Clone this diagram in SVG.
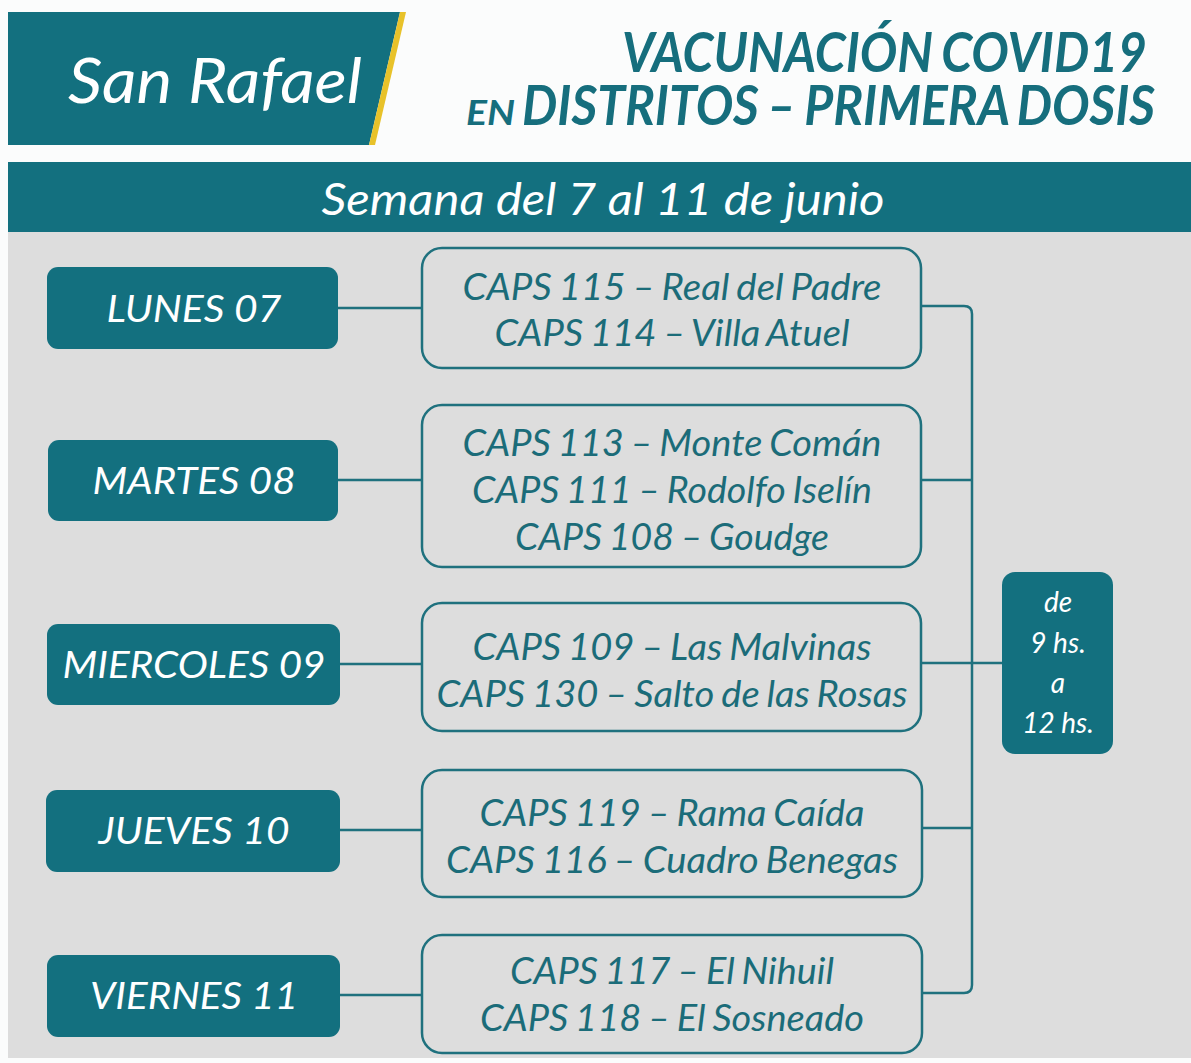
<svg xmlns="http://www.w3.org/2000/svg" width="1191" height="1063" viewBox="0 0 1191 1063">
<defs>
<style>
.day{fill:#13707f}
.caps{fill:none;stroke:#1f717e;stroke-width:2.5}
.conn{fill:none;stroke:#1f717e;stroke-width:2.5}
.wt{font-family:Lato,"Open Sans",sans-serif;font-style:italic;fill:#ffffff}
.ct{font-family:Lato,"Open Sans",sans-serif;font-style:italic;fill:#1b6c79;font-size:36px;text-anchor:middle;word-spacing:-2px}
.dt{font-family:Lato,"Open Sans",sans-serif;font-style:italic;fill:#ffffff;font-size:36px;text-anchor:middle}
.tt{font-family:Lato,"Open Sans",sans-serif;font-style:italic;font-weight:bold;fill:#166e7d;word-spacing:-3px}
</style>
</defs>
<rect x="0" y="0" width="1191" height="1063" fill="#fbfcfc"/>
<rect x="8" y="232" width="1183" height="826" fill="#dddddd"/>
<g id="header">
<polygon points="8,12 400,12 369,145 8,145" fill="#13707f"/>
<polygon points="400,12 406,12 375,145 369,145" fill="#e8c22a"/>
<text class="wt" x="215" y="103" font-size="62" text-anchor="middle" textLength="294" lengthAdjust="spacingAndGlyphs">San Rafael</text>
<text class="tt" x="622" y="72" font-size="55" textLength="525" lengthAdjust="spacingAndGlyphs">VACUNACIÓN COVID19</text>
<text class="tt" x="466" y="125" font-size="34" textLength="49" lengthAdjust="spacingAndGlyphs">EN</text>
<text class="tt" x="522" y="125" font-size="55" textLength="633" lengthAdjust="spacingAndGlyphs">DISTRITOS – PRIMERA DOSIS</text>
</g>
<g id="week">
<rect x="8" y="162" width="1183" height="70" fill="#13707f"/>
<text class="wt" x="603" y="215" font-size="44" text-anchor="middle" textLength="563" lengthAdjust="spacingAndGlyphs">Semana del 7 al 11 de junio</text>
</g>
<g id="connectors">
<line class="conn" x1="338" y1="308" x2="422" y2="308"/>
<line class="conn" x1="338" y1="480" x2="422" y2="480"/>
<line class="conn" x1="340" y1="664" x2="422" y2="664"/>
<line class="conn" x1="340" y1="830" x2="422" y2="830"/>
<line class="conn" x1="340" y1="995" x2="422" y2="995"/>
<path class="conn" d="M921,306 L964,306 Q972,306 972,314 L972,985 Q972,993 964,993 L921,993"/>
<line class="conn" x1="921" y1="480" x2="972" y2="480"/>
<line class="conn" x1="921" y1="663" x2="1002" y2="663"/>
<line class="conn" x1="921" y1="828" x2="972" y2="828"/>
</g>
<g id="lunes">
<rect class="day" x="47" y="267" width="291" height="82" rx="11"/>
<text class="dt" x="194" y="322" textLength="175" lengthAdjust="spacingAndGlyphs">LUNES 07</text>
</g>
<g id="martes">
<rect class="day" x="48" y="440" width="290" height="81" rx="11"/>
<text class="dt" x="194" y="494" textLength="203" lengthAdjust="spacingAndGlyphs">MARTES 08</text>
</g>
<g id="miercoles">
<rect class="day" x="47" y="624" width="293" height="81" rx="11"/>
<text class="dt" x="194" y="678" textLength="263" lengthAdjust="spacingAndGlyphs">MIERCOLES 09</text>
</g>
<g id="jueves">
<rect class="day" x="46" y="790" width="294" height="82" rx="11"/>
<text class="dt" x="194" y="844" textLength="191" lengthAdjust="spacingAndGlyphs">JUEVES 10</text>
</g>
<g id="viernes">
<rect class="day" x="47" y="955" width="293" height="82" rx="11"/>
<text class="dt" x="194" y="1009" textLength="208" lengthAdjust="spacingAndGlyphs">VIERNES 11</text>
</g>
<g id="caps-lunes">
<rect class="caps" x="422" y="248" width="499" height="120" rx="20"/>
<text class="ct" x="672" y="300" textLength="419" lengthAdjust="spacingAndGlyphs">CAPS 115 – Real del Padre</text>
<text class="ct" x="672" y="346" textLength="355" lengthAdjust="spacingAndGlyphs">CAPS 114 – Villa Atuel</text>
</g>
<g id="caps-martes">
<rect class="caps" x="422" y="405" width="499" height="162" rx="20"/>
<text class="ct" x="672" y="456" textLength="419" lengthAdjust="spacingAndGlyphs">CAPS 113 – Monte Comán</text>
<text class="ct" x="672" y="503" textLength="400" lengthAdjust="spacingAndGlyphs">CAPS 111 – Rodolfo Iselín</text>
<text class="ct" x="672" y="550" textLength="314" lengthAdjust="spacingAndGlyphs">CAPS 108 – Goudge</text>
</g>
<g id="caps-miercoles">
<rect class="caps" x="422" y="603" width="499" height="128" rx="20"/>
<text class="ct" x="672" y="660" textLength="399" lengthAdjust="spacingAndGlyphs">CAPS 109 – Las Malvinas</text>
<text class="ct" x="672" y="707" textLength="471" lengthAdjust="spacingAndGlyphs">CAPS 130 – Salto de las Rosas</text>
</g>
<g id="caps-jueves">
<rect class="caps" x="422" y="770" width="500" height="127" rx="20"/>
<text class="ct" x="672" y="826" textLength="385" lengthAdjust="spacingAndGlyphs">CAPS 119 – Rama Caída</text>
<text class="ct" x="672" y="873" textLength="452" lengthAdjust="spacingAndGlyphs">CAPS 116 – Cuadro Benegas</text>
</g>
<g id="caps-viernes">
<rect class="caps" x="422" y="935" width="500" height="118" rx="20"/>
<text class="ct" x="672" y="984" textLength="324" lengthAdjust="spacingAndGlyphs">CAPS 117 – El Nihuil</text>
<text class="ct" x="672" y="1031" textLength="384" lengthAdjust="spacingAndGlyphs">CAPS 118 – El Sosneado</text>
</g>
<g id="horario">
<rect class="day" x="1002" y="572" width="111" height="182" rx="13"/>
<text class="wt" x="1058" y="612" font-size="28" text-anchor="middle">de</text>
<text class="wt" x="1058" y="653" font-size="28" text-anchor="middle">9 hs.</text>
<text class="wt" x="1058" y="693" font-size="28" text-anchor="middle">a</text>
<text class="wt" x="1058" y="733" font-size="28" text-anchor="middle">12 hs.</text>
</g>
</svg>
